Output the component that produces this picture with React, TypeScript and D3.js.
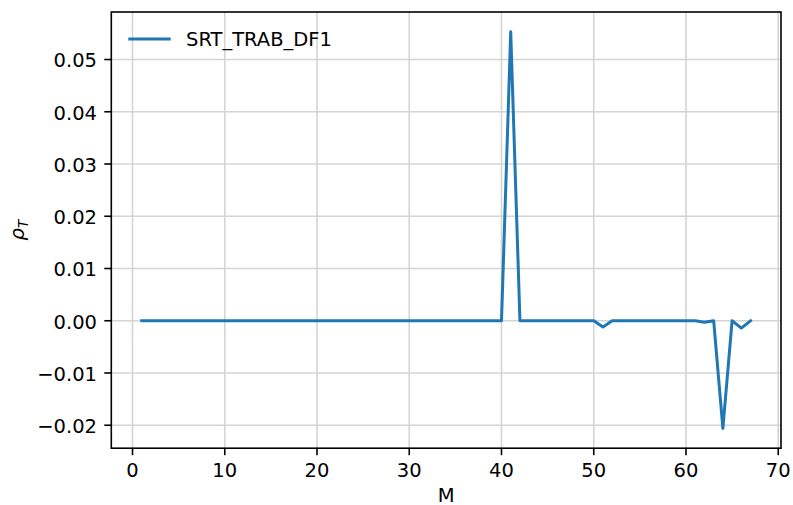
import React from "react";
import * as d3 from "d3";

// Series: rho_T per M
const seriesName = "SRT_TRAB_DF1";
const rhoValues: number[] = [
  0, 0, 0, 0, 0, 0, 0, 0, 0, 0,
  0, 0, 0, 0, 0, 0, 0, 0, 0, 0,
  0, 0, 0, 0, 0, 0, 0, 0, 0, 0,
  0, 0, 0, 0, 0, 0, 0, 0, 0, 0,
  0.0553, 0, 0, 0, 0, 0, 0, 0, 0, 0,
  -0.0012, 0, 0, 0, 0, 0, 0, 0, 0, 0,
  0, -0.0003, 0, -0.0206, 0, -0.0014, 0,
];
const mValues: number[] = rhoValues.map((_, i) => i + 1);
const xTicks: number[] = [0, 10, 20, 30, 40, 50, 60, 70];
const yTicks: number[] = [-0.02, -0.01, 0, 0.01, 0.02, 0.03, 0.04, 0.05];

const W = 793;
const H = 505;
const left = 111.3;
const right = 781;
const top = 12;
const bottom = 448.2;
const FONT = "DejaVu Sans, Verdana, sans-serif";
const FS = 19.5;
const BLUE = "#1f77b4";

function pad(ext: [number, number]): [number, number] {
  const r = ext[1] - ext[0];
  return [ext[0] - 0.05 * r, ext[1] + 0.05 * r];
}

export default function App() {
  const x = d3.scaleLinear().domain(pad(d3.extent(mValues) as [number, number])).range([left, right]);
  const y = d3.scaleLinear().domain(pad(d3.extent(rhoValues) as [number, number])).range([bottom, top]);
  const line = d3
    .line<number>()
    .x((_, i) => x(mValues[i]))
    .y((d) => y(d));
  const fmt = (v: number) => d3.format(".2f")(v).replace("-", "\u2212");

  return (
    <svg
      width={W}
      height={H}
      style={{ position: "absolute", left: 0, top: 0, background: "#fff" }}
      fontFamily={FONT}
    >
      <rect x={0} y={0} width={W} height={H} fill="#fff" />
      {/* grid */}
      <g stroke="#d4d4d4" strokeWidth={1.6}>
        {xTicks.map((t) => (
          <line key={"gx" + t} x1={x(t)} x2={x(t)} y1={top} y2={bottom} />
        ))}
        {yTicks.map((t) => (
          <line key={"gy" + t} x1={left} x2={right} y1={y(t)} y2={y(t)} />
        ))}
      </g>
      {/* series */}
      <path d={line(rhoValues) ?? ""} fill="none" stroke={BLUE} strokeWidth={3} strokeLinejoin="round" strokeLinecap="square" />
      {/* spines */}
      <rect x={left} y={top} width={right - left} height={bottom - top} fill="none" stroke="#000" strokeWidth={1.6} />
      {/* x axis */}
      {xTicks.map((t) => (
        <g key={"xt" + t}>
          <line x1={x(t)} x2={x(t)} y1={bottom} y2={bottom + 7} stroke="#000" strokeWidth={1.6} />
          <text x={x(t)} y={477} fontSize={FS} textAnchor="middle" fill="#000">
            {t}
          </text>
        </g>
      ))}
      {/* y axis */}
      {yTicks.map((t) => (
        <g key={"yt" + t}>
          <line x1={left - 7} x2={left} y1={y(t)} y2={y(t)} stroke="#000" strokeWidth={1.6} />
          <text x={97} y={y(t) + 7.8} fontSize={FS} textAnchor="end" fill="#000">
            {fmt(t)}
          </text>
        </g>
      ))}
      {/* axis labels */}
      <text x={(left + right) / 2} y={502} fontSize={FS} textAnchor="middle" fill="#000">
        M
      </text>
      <text transform={`translate(24, ${(top + bottom) / 2}) rotate(-90)`} fontSize={FS} textAnchor="middle" fill="#000" fontStyle="italic">
        ρ<tspan fontSize={FS * 0.7} dy={3.5}>T</tspan>
      </text>
      {/* legend */}
      <line x1={128.3} x2={170.7} y1={39} y2={39} stroke={BLUE} strokeWidth={3} />
      <text x={186} y={46} fontSize={FS} fill="#000">
        {seriesName}
      </text>
    </svg>
  );
}
